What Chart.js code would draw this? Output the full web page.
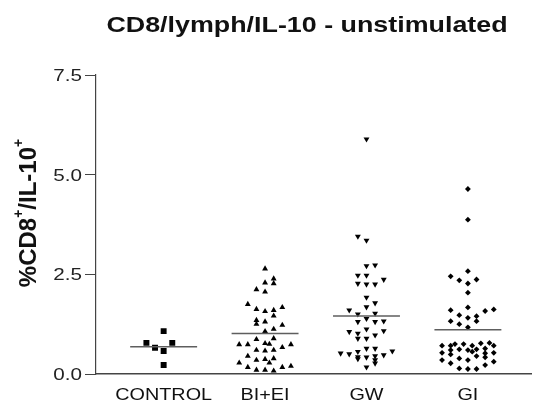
<!DOCTYPE html>
<html>
<head>
<meta charset="utf-8">
<script src="https://cdn.jsdelivr.net/npm/chart.js@4.4.1/dist/chart.umd.min.js"></script>
<style>
  html, body { margin: 0; padding: 0; background: #fff; }
</style>
</head>
<body>
<canvas id="dot-plot" width="536" height="406"></canvas>
<script>
const titleText = 'CD8/lymph/IL-10 - unstimulated';
const categories = ['CONTROL', 'BI+EI', 'GW', 'GI'];
const yTicks = [0, 2.5, 5.0, 7.5];

// % CD8+/IL-10+ per subject, one array per group
const controlValues = [1.075, 0.78, 0.66, 0.575, 0.78, 0.225];
const biEiValues = [
    2.64, 2.39, 2.27, 2.29, 2.12, 2.06, 1.75, 1.625, 1.57, 1.6, 1.46, 1.67,
    1.35, 1.25, 1.31, 1.225, 1.125, 1.07, 0.74, 0.74, 0.87, 0.77, 0.75, 0.89,
    0.67, 0.74, 0.45, 0.6, 0.58, 0.6, 0.28, 0.35, 0.37, 0.28, 0.39, 0.17,
    0.1, 0.1, 0.08, 0.17, 0.2
];
const gwValues = [
    5.89, 3.45, 3.35, 2.71, 2.73, 2.475, 2.475, 2.27, 2.25, 2.25, 2.37, 1.92,
    1.68, 1.78, 1.6, 1.5, 1.52, 1.39, 1.31, 1.31, 1.325, 1.06, 1.02, 0.89,
    1.125, 0.89, 0.975, 1.08, 0.52, 0.5, 0.56, 0.43, 0.64, 0.42, 0.64, 0.45,
    0.35, 0.475, 0.575, 0.17, 0.27, 0.38
];
const giValues = [
    4.64, 3.87, 2.58, 2.45, 2.35, 2.27, 2.37, 2.04, 1.67, 1.6, 1.475, 1.41,
    1.45, 1.325, 1.58, 1.62, 1.325, 1.25, 1.17, 0.71, 0.71, 0.75, 0.75, 0.71,
    0.77, 0.78, 0.71, 0.53, 0.6, 0.49, 0.62, 0.6, 0.56, 0.62, 0.45, 0.64,
    0.52, 0.53, 0.35, 0.39, 0.35, 0.42, 0.31, 0.27, 0.14, 0.125, 0.125, 0.225
];

// scatter lane of each point (column left/right of the group centre)
const controlLanes = [0, -2, -1, 0, 1, 0];
const biEiLanes = [
    0, 1, 1, 0, -1, 0, -2, -1, 0, 1, 1, 2,
    -1, -1, 0, 2, 1, 0, -3, -2, -1, 0, 0.5, 1,
    2, 3, -2, -1, 0, 1, -3, -1, 0, 0.5, 1, -2,
    -1, 0, 1, 2, 3
];
const gwLanes = [
    0, -1, 0, 0, 1, -1, 0, -1, 0, 1, 2, 0,
    0, 1, -2, -1, 1, 0, -1, 1, 2, -2, -1, -1,
    0, 0, 1, 2, -3, -2, -1, -1, 0, 0, 1, 1,
    1, 2, 3, 0, 1, -1
];
const giLanes = [
    0, 0, 0, -2, -1, 0, 1, 0, 0, -2, -1, 0,
    1, 1, 2, 3, -2, -1, 0, -3, -2, -1.5, -0.5, 0.5,
    1.5, 2.5, 3, -3, -2, -2, -1, 0, 0.5, 1, 1, 2,
    2, 3, -3, -1, 0, 2, 3, -2, -1, 0, 1, 2
];

const LANE = 0.085;      // width of one lane in category units
const MEAN_HALF = 0.33;  // half length of the mean bar
const FONT = '"Liberation Sans", Arial, sans-serif';

function points(center, values, lanes) {
    return values.map((v, i) => ({ x: center + lanes[i] * LANE, y: v }));
}

function mean(values) {
    return values.reduce((a, b) => a + b, 0) / values.length;
}

const groups = [
    { values: controlValues, lanes: controlLanes, style: 'rect', radius: 4.2, rotation: 0 },
    { values: biEiValues, lanes: biEiLanes, style: 'triangle', radius: 3.4, rotation: 0 },
    { values: gwValues, lanes: gwLanes, style: 'triangle', radius: 3.4, rotation: 180 },
    { values: giValues, lanes: giLanes, style: 'rectRot', radius: 2.9, rotation: 0 }
];

const datasets = [];
groups.forEach((g, i) => {
    const c = i + 1;
    const m = mean(g.values);
    datasets.push({
        type: 'line',
        label: categories[i] + ' mean',
        data: [{ x: c - MEAN_HALF, y: m }, { x: c + MEAN_HALF, y: m }],
        borderColor: '#5e5e5e',
        borderWidth: 1.5,
        pointRadius: 0,
        fill: false
    });
    datasets.push({
        label: categories[i],
        data: points(c, g.values, g.lanes),
        pointStyle: g.style,
        pointRadius: g.radius,
        pointRotation: g.rotation,
        backgroundColor: '#000',
        borderColor: '#000',
        borderWidth: 0
    });
});

// text drawn a little wider than the plain font
function wideText(ctx, text, x, y, font, align, sx) {
    ctx.save();
    ctx.font = font;
    ctx.textAlign = align;
    ctx.textBaseline = 'alphabetic';
    ctx.translate(x, y);
    ctx.scale(sx, 1);
    ctx.fillText(text, 0, 0);
    ctx.restore();
}

const labelsPlugin = {
    id: 'labels',
    afterDraw(chart) {
        const ctx = chart.ctx;
        const xs = chart.scales.x;
        const ys = chart.scales.y;
        ctx.save();
        ctx.fillStyle = '#111';

        wideText(ctx, titleText, 307, 32, 'bold 22px ' + FONT, 'center', 1.22);

        categories.forEach((c, i) => {
            wideText(ctx, c, xs.getPixelForValue(i + 1), 400, '16.5px ' + FONT, 'center', 1.2);
        });

        ctx.fillStyle = '#222';
        yTicks.forEach(v => {
            wideText(ctx, v.toFixed(1), 82, ys.getPixelForValue(v) + 6, '16.5px ' + FONT, 'right', 1.25);
        });

        // y axis title with superscripts
        ctx.fillStyle = '#111';
        const parts = [['%CD8', false], ['+', true], ['/IL-10', false], ['+', true]];
        const big = 'bold 24px ' + FONT;
        const small = 'bold 14px ' + FONT;
        let total = 0;
        parts.forEach(p => { ctx.font = p[1] ? small : big; total += ctx.measureText(p[0]).width; });
        ctx.translate(36, 213);
        ctx.rotate(-Math.PI / 2);
        ctx.textBaseline = 'alphabetic';
        ctx.textAlign = 'left';
        let px = -total / 2;
        parts.forEach(p => {
            ctx.font = p[1] ? small : big;
            ctx.fillText(p[0], px, p[1] ? -13 : 0);
            px += ctx.measureText(p[0]).width;
        });
        ctx.restore();
    }
};

new Chart(document.getElementById('dot-plot'), {
    type: 'scatter',
    data: { datasets: datasets },
    options: {
        responsive: false,
        animation: false,
        layout: { padding: { top: 75, left: 0, right: 0, bottom: 0 } },
        plugins: {
            legend: { display: false },
            title: { display: false },
            tooltip: { enabled: false }
        },
        scales: {
            x: {
                type: 'linear',
                min: 0.333,
                max: 4.63,
                afterBuildTicks: s => { s.ticks = categories.map((c, i) => ({ value: i + 1 })); },
                afterFit: s => { s.height = 32; },
                ticks: { display: false },
                grid: { display: false },
                border: { display: true, color: '#444', width: 1.5 }
            },
            y: {
                min: 0,
                max: 7.5,
                afterBuildTicks: s => { s.ticks = yTicks.map(v => ({ value: v })); },
                afterFit: s => { s.width = 96; },
                ticks: { display: false },
                grid: { drawOnChartArea: false, drawTicks: true, tickLength: 11, color: '#444', lineWidth: 1 },
                border: { display: true, color: '#444', width: 1.2 }
            }
        }
    },
    plugins: [labelsPlugin]
});
</script>
</body>
</html>
